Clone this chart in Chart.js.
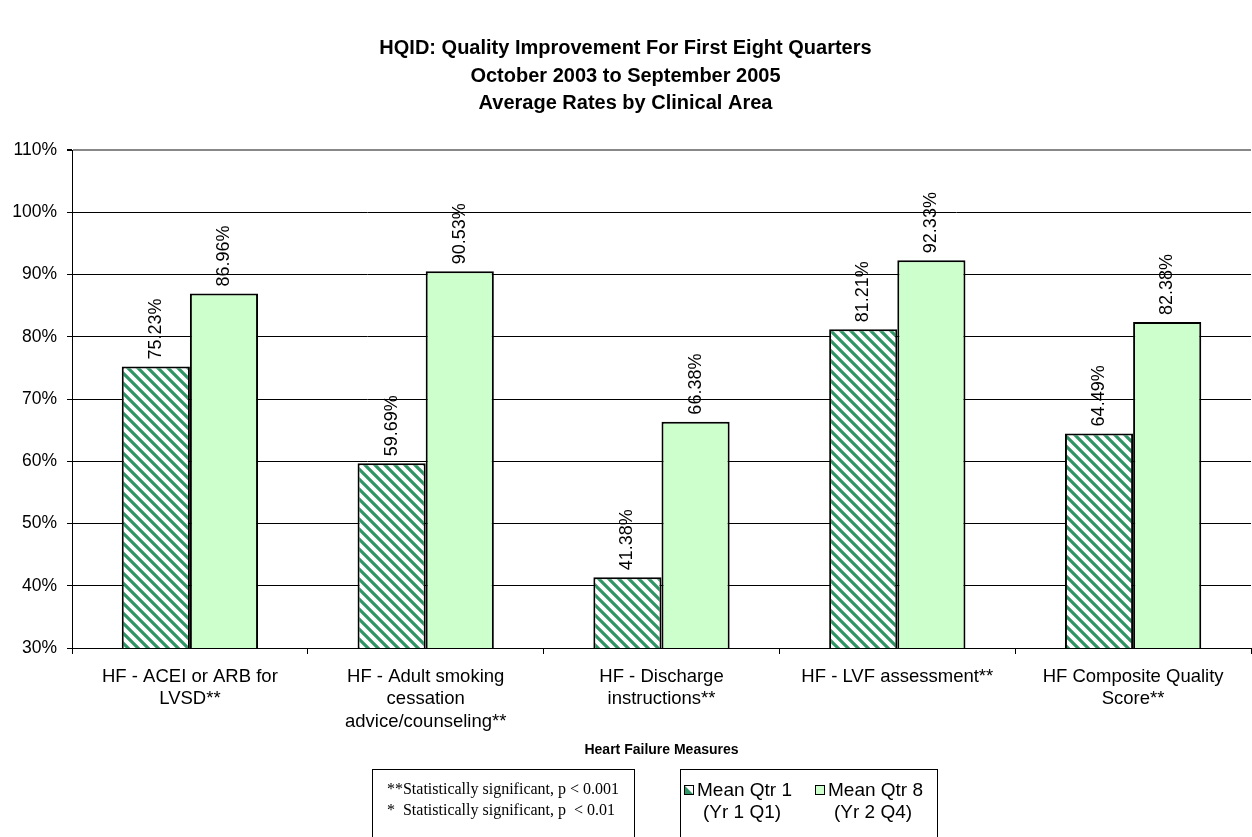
<!DOCTYPE html>
<html>
<head>
<meta charset="utf-8">
<script src="https://cdn.jsdelivr.net/npm/chart.js@4.4.1/dist/chart.umd.min.js"></script>
<style>
  html, body { margin: 0; padding: 0; background: #fff; }
  #wrap { width: 1252px; height: 837px; position: relative; }
</style>
</head>
<body>
<div id="wrap"><canvas id="c" width="1252" height="837"></canvas></div>
<script>
// ---- data ----
const titleLines = [
  "HQID: Quality Improvement For First Eight Quarters",
  "October 2003 to September 2005",
  "Average Rates by Clinical Area"
];
const categories = [
  ["HF - ACEI or ARB for", "LVSD**"],
  ["HF - Adult smoking", "cessation", "advice/counseling**"],
  ["HF - Discharge", "instructions**"],
  "HF - LVF assessment**",
  ["HF Composite Quality", "Score**"]
];
const meanQtr1 = [75.23, 59.69, 41.38, 81.21, 64.49];
const meanQtr8 = [86.96, 90.53, 66.38, 92.33, 82.38];
const seriesLabels = [["Mean Qtr 1", "(Yr 1 Q1)"], ["Mean Qtr 8", "(Yr 2 Q4)"]];
const yMin = 30, yMax = 110, yStep = 10;
const axisTitle = "Heart Failure Measures";
const footnotes = [
  "**Statistically significant, p < 0.001",
  "*  Statistically significant, p  < 0.01"
];

// ---- styles ----
const SANS = '"Liberation Sans", Arial, Helvetica, sans-serif';
const SERIF = '"Liberation Serif", "Times New Roman", serif';
const LIGHT_GREEN = '#ccffcc';
const STRIPE_GREEN = '#2f9564';

function makeHatch() {
  const s = 10;
  const tile = document.createElement('canvas');
  tile.width = s; tile.height = s;
  const g = tile.getContext('2d');
  g.fillStyle = '#ffffff';
  g.fillRect(0, 0, s, s);
  g.strokeStyle = STRIPE_GREEN;
  g.lineWidth = 3.2;
  g.beginPath();
  for (const o of [-s, 0, s]) {
    g.moveTo(o - 2, -2);
    g.lineTo(o + s + 2, s + 2);
  }
  g.stroke();
  return g.createPattern(tile, 'repeat');
}
const hatch = makeHatch();

// value labels, rotated, above each bar
const valueLabels = {
  id: 'valueLabels',
  afterDatasetsDraw(chart) {
    const ctx = chart.ctx;
    ctx.save();
    ctx.font = '18px ' + SANS;
    ctx.fillStyle = '#000';
    chart.data.datasets.forEach((ds, i) => {
      chart.getDatasetMeta(i).data.forEach((bar, j) => {
        ctx.save();
        ctx.translate(bar.x, bar.y - 7);
        ctx.rotate(-Math.PI / 2);
        ctx.textAlign = 'left';
        ctx.textBaseline = 'middle';
        ctx.fillText(ds.data[j].toFixed(2) + '%', 0, 0);
        ctx.restore();
      });
    });
    ctx.restore();
  }
};

// footnote box and legend box under the axis title
const bottomBoxes = {
  id: 'bottomBoxes',
  afterDraw(chart) {
    const ctx = chart.ctx;
    ctx.save();
    ctx.strokeStyle = '#000';
    ctx.lineWidth = 1;

    // footnote box
    ctx.strokeRect(372.5, 769.5, 262, 70);
    ctx.fillStyle = '#000';
    ctx.font = '16px ' + SERIF;
    ctx.textAlign = 'center';
    ctx.textBaseline = 'middle';
    ctx.fillText(footnotes[0], 503, 790);
    ctx.fillText(footnotes[1], 501, 811);

    // legend box
    ctx.strokeRect(680.5, 769.5, 257, 70);
    ctx.font = '19px ' + SANS;
    ctx.textAlign = 'left';
    const items = [
      { x: 684, fill: 'hatch', lines: seriesLabels[0] },
      { x: 815, fill: LIGHT_GREEN, lines: seriesLabels[1] }
    ];
    items.forEach(it => {
      const sx = it.x + 0.5, sy = 785.5, sz = 9;
      if (it.fill === 'hatch') {
        ctx.fillStyle = '#fff';
        ctx.fillRect(sx, sy, sz, sz);
        ctx.fillStyle = STRIPE_GREEN;
        ctx.beginPath();
        ctx.moveTo(sx, sy);
        ctx.lineTo(sx + sz, sy + sz);
        ctx.lineTo(sx, sy + sz);
        ctx.closePath();
        ctx.fill();
      } else {
        ctx.fillStyle = it.fill;
        ctx.fillRect(sx, sy, sz, sz);
      }
      ctx.strokeStyle = '#000';
      ctx.strokeRect(sx, sy, sz, sz);
      ctx.fillStyle = '#000';
      ctx.fillText(it.lines[0], it.x + 13, 791);
      ctx.fillText(it.lines[1], it.x + 19, 813);
    });
    ctx.restore();
  }
};

new Chart(document.getElementById('c'), {
  type: 'bar',
  data: {
    labels: categories,
    datasets: [
      {
        label: seriesLabels[0].join(' '),
        data: meanQtr1,
        backgroundColor: hatch,
        borderColor: '#000',
        borderWidth: 2,
        borderSkipped: false
      },
      {
        label: seriesLabels[1].join(' '),
        data: meanQtr8,
        backgroundColor: LIGHT_GREEN,
        borderColor: '#000',
        borderWidth: 2,
        borderSkipped: false
      }
    ]
  },
  options: {
    responsive: false,
    animation: false,
    layout: { padding: { top: 0, right: 1, bottom: 74, left: 0 } },
    datasets: { bar: { categoryPercentage: 0.578, barPercentage: 1.0 } },
    plugins: {
      legend: { display: false },
      tooltip: { enabled: false },
      title: {
        display: true,
        text: titleLines,
        color: '#000',
        font: { family: SANS, size: 20, weight: 'bold', lineHeight: 1.37 },
        padding: { top: 35, bottom: 33 }
      }
    },
    scales: {
      x: {
        grid: {
          offset: true,
          drawOnChartArea: false,
          color: '#000',
          tickLength: 6,
          tickColor: '#000'
        },
        border: { color: '#000', width: 1 },
        ticks: {
          color: '#000',
          font: { family: SANS, size: 18.5, lineHeight: 1.2 },
          padding: 12,
          maxRotation: 0,
          autoSkip: false
        },
        title: {
          display: true,
          text: axisTitle,
          color: '#000',
          font: { family: SANS, size: 14, weight: 'bold' },
          padding: { top: 4, bottom: 4 }
        },
        afterFit(scale) { scale.height = 115; }
      },
      y: {
        min: yMin,
        max: yMax,
        border: { color: '#000', width: 1 },
        grid: {
          color: ctx => (ctx.tick && ctx.tick.value === yMax) ? '#888888' : '#000000',
          lineWidth: ctx => (ctx.tick && ctx.tick.value === yMax) ? 2 : 1,
          tickLength: 5,
          tickColor: '#000'
        },
        ticks: {
          stepSize: yStep,
          color: '#000',
          padding: 10,
          font: { family: SANS, size: 17.5 },
          callback: v => v + '%'
        },
        afterFit(scale) { scale.width = 72; }
      }
    }
  },
  plugins: [valueLabels, bottomBoxes]
});
</script>
</body>
</html>
